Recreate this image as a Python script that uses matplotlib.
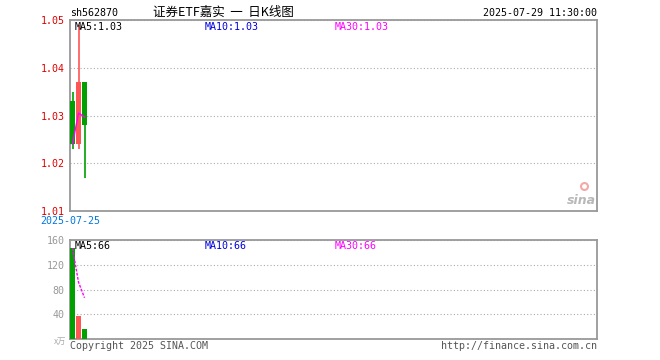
#Daily K-line chart (Sina finance style) for sh562870
import matplotlib
matplotlib.use("Agg")
import matplotlib.pyplot as plt
import numpy as np

#Data
dates = ['2025-07-25', '2025-07-28', '2025-07-29']
opens = [1.033, 1.024, 1.037]
closes = [1.024, 1.037, 1.028]
highs = [1.035, 1.049, 1.037]
lows = [1.023, 1.023, 1.017]
price_ma = [1.024, 1.0305, 1.0297]
volumes = [146.7, 36.8, 16.5]
volume_ma = [146.7, 91.7, 66.7]
price_ticks = [1.01, 1.02, 1.03, 1.04, 1.05]
volume_ticks = [40, 80, 120, 160]

RED = '#ff5555'
GREEN = '#00a000'
BORDER = '#999999'
mono = 'DejaVu Sans Mono'
fs = 7.2

fig = plt.figure(figsize=(6.6, 3.6), dpi=100)
ax = fig.add_axes([70/660, 1-211/360, 527/660, 191/360])
axv = fig.add_axes([70/660, 1-339/360, 527/660, 99/360])

x = np.arange(len(dates))
cols = [RED if c >= o else GREEN for o, c in zip(opens, closes)]

#Candles
for i in x:
    ax.vlines(i, lows[i], highs[i], color=cols[i], linewidth=1.2, zorder=3)
    lo = min(opens[i], closes[i])
    ax.bar(i, abs(closes[i]-opens[i]), bottom=lo, width=0.83, color=cols[i], zorder=3)
ax.plot(x, price_ma, color='#ff00ff', linewidth=1, zorder=4)

ax.set_xlim(-0.42, 87.42)
ax.set_ylim(1.01, 1.05)
ax.set_yticks(price_ticks)
ax.set_yticklabels(['%.2f' % t for t in price_ticks], color='#e00000', fontsize=fs, family=mono)
ax.set_xticks([])
ax.tick_params(axis='y', length=0, pad=4)
ax.grid(axis='y', color='#aaaaaa', linestyle=(0, (1, 2)), linewidth=0.8)

#Volume bars
axv.bar(x, volumes, width=0.83, color=cols, zorder=3)
axv.plot(x, volume_ma, color='#ff00ff', linewidth=1, linestyle=(0, (2, 1)), zorder=4)
axv.set_xlim(-0.42, 87.42)
axv.set_ylim(0, 160)
axv.set_yticks(volume_ticks)
axv.set_yticklabels([str(t) for t in volume_ticks], color='#999999', fontsize=fs, family=mono)
axv.set_xticks([])
axv.tick_params(axis='y', length=0, pad=4)
axv.grid(axis='y', color='#aaaaaa', linestyle=(0, (1, 2)), linewidth=0.8)

for a in (ax, axv):
    for s in a.spines.values():
        s.set_color(BORDER)
        s.set_linewidth(1.3)

#MA labels
ax.text(5/527, 0.99, 'MA5:1.03', transform=ax.transAxes, color='black', fontsize=fs, family=mono, va='top')
ax.text(135/527, 0.99, 'MA10:1.03', transform=ax.transAxes, color='#0000e0', fontsize=fs, family=mono, va='top')
ax.text(265/527, 0.99, 'MA30:1.03', transform=ax.transAxes, color='#ff00ff', fontsize=fs, family=mono, va='top')
axv.text(5/527, 0.99, 'MA5:66', transform=axv.transAxes, color='black', fontsize=fs, family=mono, va='top')
axv.text(135/527, 0.99, 'MA10:66', transform=axv.transAxes, color='#0000e0', fontsize=fs, family=mono, va='top')
axv.text(265/527, 0.99, 'MA30:66', transform=axv.transAxes, color='#ff00ff', fontsize=fs, family=mono, va='top')

#Header and footer texts
fig.text(70/660, 1-13/360, 'sh562870', fontsize=fs, family=mono, va='center', ha='left')
fig.text(223/660, 1-12/360, '证券ETF嘉实  一  日K线图', fontsize=9,
         family=['Noto Sans CJK SC', 'DejaVu Sans'], va='center', ha='center')
fig.text(597/660, 1-13/360, '2025-07-29 11:30:00', fontsize=fs, family=mono, va='center', ha='right')
fig.text(70/660, 1-221/360, dates[0], fontsize=fs, family=mono, va='center', ha='center', color='#0077dd')
fig.text(66/660, 1-341/360, 'x万', fontsize=6, family=['Noto Sans CJK SC', 'DejaVu Sans'],
         va='center', ha='right', color='#aaaaaa')
fig.text(70/660, 1-346/360, 'Copyright 2025 SINA.COM', fontsize=fs, family=mono, va='center', ha='left', color='#555555')
fig.text(597/660, 1-346/360, 'http://finance.sina.com.cn', fontsize=fs, family=mono, va='center', ha='right', color='#555555')

#sina watermark
ax.text(0.998, 0.02, 'sina', transform=ax.transAxes, fontsize=9, fontweight='bold', style='italic',
        color='#b8b8b8', ha='right', va='bottom')
ax.plot([0.975], [0.13], 'o', transform=ax.transAxes, markersize=5, markerfacecolor='none',
        markeredgecolor='#f4a8a8', markeredgewidth=1.5)

fig.savefig('out.png', dpi=100)
